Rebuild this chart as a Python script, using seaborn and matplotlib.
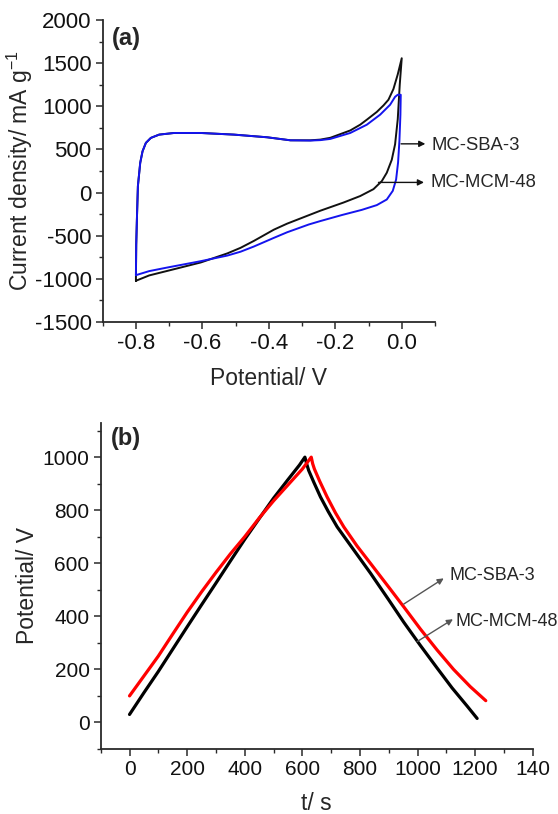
import matplotlib
matplotlib.use("Agg")
import matplotlib.pyplot as plt
import numpy as np
import pandas as pd
import seaborn as sns
from matplotlib.ticker import MultipleLocator, FixedLocator, FixedFormatter

# ---------------- data: (a) cyclic voltammetry (forward sweep, then reverse sweep) ----------------
cv_mcm48_potential = [-0.800, -0.799, -0.797, -0.794, -0.787, -0.780, -0.770, -0.755, -0.730,
                      -0.685, -0.605, -0.505, -0.405, -0.335, -0.275, -0.245, -0.215, -0.155,
                      -0.125, -0.105, -0.075, -0.055, -0.040, -0.025, -0.012, 0.000,
                      -0.006, -0.012, -0.020, -0.030, -0.045, -0.060, -0.085, -0.125, -0.175,
                      -0.245, -0.275, -0.345, -0.385, -0.445, -0.485, -0.525, -0.605, -0.705,
                      -0.760, -0.800]
cv_mcm48_current = [-1022, -600, -310, 75, 345, 479, 576, 634, 672,
                    691, 691, 672, 641, 606, 606, 614, 635, 720,
                    787, 845, 935, 1010, 1076, 1200, 1370, 1557,
                    1250, 850, 560, 380, 230, 133, 40, -40, -115,
                    -210, -255, -360, -430, -560, -640, -705, -810, -907,
                    -960, -1022]

cv_sba3_potential = [-0.800, -0.799, -0.797, -0.794, -0.787, -0.780, -0.770, -0.755, -0.730,
                     -0.685, -0.605, -0.505, -0.405, -0.335, -0.275, -0.245, -0.215, -0.155,
                     -0.105, -0.065, -0.035, -0.020, -0.012, -0.003,
                     -0.003, -0.004, -0.007, -0.011, -0.017, -0.027, -0.045, -0.075, -0.120,
                     -0.180, -0.245, -0.280, -0.345, -0.385, -0.445, -0.485, -0.525, -0.605,
                     -0.705, -0.760, -0.800]
cv_sba3_current = [-957, -600, -310, 75, 345, 479, 576, 634, 672,
                   691, 691, 672, 641, 606, 603, 608, 622, 691,
                   787, 903, 1018, 1110, 1134, 1134,
                   1120, 900, 600, 350, 150, 20, -80, -145, -200,
                   -260, -330, -370, -460, -525, -625, -685, -730, -795,
                   -868, -910, -957]

# ---------------- data: (b) galvanostatic charge/discharge ----------------
gcd_mcm48_time = [0, 50, 100, 150, 200, 250, 300, 350, 400, 450, 500, 550, 590, 609,
                  615, 622, 640, 663, 690, 721, 780, 837, 900, 952, 1010, 1068, 1120, 1172, 1207]
gcd_mcm48_potential = [30, 112, 192, 276, 360, 443, 525, 608, 690, 768, 845, 915, 970, 1000,
                       975, 950, 905, 850, 795, 737, 648, 562, 462, 378, 290, 205, 130, 62, 15]

gcd_sba3_time = [0, 50, 100, 150, 200, 250, 300, 350, 400, 450, 500, 550, 600, 631,
                 636, 642, 660, 686, 715, 744, 790, 837, 900, 952, 1010, 1068, 1125, 1183, 1237]
gcd_sba3_potential = [100, 175, 250, 333, 415, 492, 565, 635, 700, 770, 835, 895, 955, 1000,
                      975, 955, 910, 850, 790, 737, 665, 599, 510, 436, 352, 273, 200, 135, 82]

cv_xticks = [-0.8, -0.6, -0.4, -0.2, 0.0]
cv_xticklabels = ["-0.8", "-0.6", "-0.4", "-0.2", "0.0"]
cv_yticks = [-1500, -1000, -500, 0, 500, 1000, 1500, 2000]
gcd_xticks = [0, 200, 400, 600, 800, 1000, 1200, 1400]
gcd_xticklabels = ["0", "200", "400", "600", "800", "1000", "1200", "140"]
gcd_yticks = [0, 200, 400, 600, 800, 1000]

# ---------------- style ----------------
sns.set_theme(style="ticks")
plt.rcParams['font.family'] = ['Liberation Sans', 'DejaVu Sans']
plt.rcParams['mathtext.fontset'] = 'custom'
plt.rcParams['mathtext.rm'] = 'Liberation Sans'
plt.rcParams['axes.unicode_minus'] = False

SPINE = "#2a2a2a"

fig = plt.figure(figsize=(5.58, 8.14), dpi=100)
ax1 = fig.add_axes([0.184, 0.6044, 0.5955, 0.371])
ax2 = fig.add_axes([0.1805, 0.0799, 0.7742, 0.4009])

cv = pd.concat([
    pd.DataFrame({"E": cv_mcm48_potential, "I": cv_mcm48_current, "s": "MC-MCM-48"}),
    pd.DataFrame({"E": cv_sba3_potential, "I": cv_sba3_current, "s": "MC-SBA-3"}),
])
sns.lineplot(data=cv, x="E", y="I", hue="s", sort=False, estimator=None, ax=ax1,
             palette={"MC-MCM-48": "#111111", "MC-SBA-3": "#1414ee"}, lw=1.4, legend=False)
for ln in ax1.get_lines():
    ln.set_solid_joinstyle("round")

gcd = pd.concat([
    pd.DataFrame({"t": gcd_mcm48_time, "V": gcd_mcm48_potential, "s": "MC-MCM-48"}),
    pd.DataFrame({"t": gcd_sba3_time, "V": gcd_sba3_potential, "s": "MC-SBA-3"}),
])
sns.lineplot(data=gcd, x="t", y="V", hue="s", sort=False, estimator=None, ax=ax2,
             palette={"MC-MCM-48": "#000000", "MC-SBA-3": "#ff0000"}, lw=2.3, legend=False)
for ln in ax2.get_lines():
    ln.set_solid_capstyle("round")
    ln.set_solid_joinstyle("round")

for ax, fs in ((ax1, 16), (ax2, 15)):
    for sp in ("top", "right"):
        ax.spines[sp].set_visible(False)
    for sp in ("left", "bottom"):
        ax.spines[sp].set_color(SPINE)
        ax.spines[sp].set_linewidth(1.3)
    ax.tick_params(which="major", direction="out", length=5, width=1.1, color=SPINE,
                   labelsize=fs, labelcolor="#111111", pad=3)
    ax.tick_params(which="minor", direction="out", length=3, width=1.0, color=SPINE)
    ax.grid(False)

# (a)
ax1.set_xlim(-0.9, 0.1)
ax1.set_ylim(-1500, 2000)
ax1.xaxis.set_major_locator(FixedLocator(cv_xticks))
ax1.xaxis.set_major_formatter(FixedFormatter(cv_xticklabels))
ax1.xaxis.set_minor_locator(MultipleLocator(0.1))
ax1.yaxis.set_major_locator(FixedLocator(cv_yticks))
ax1.yaxis.set_minor_locator(MultipleLocator(250))
ax1.set_xlabel("Potential/ V", fontsize=16.5, labelpad=9)
ax1.set_ylabel("Current density/ mA g$^{\\mathregular{-1}}$", fontsize=16.5, labelpad=0)
ax1.text(0.027, 0.94, "(a)", transform=ax1.transAxes, fontsize=17, fontweight="bold",
         ha="left", va="center")

arrow_k = dict(arrowstyle="-|>", color="#111111", lw=1.0, shrinkA=0, shrinkB=0,
               mutation_scale=9)
ax1.annotate("", xy=(0.071, 565), xytext=(-0.002, 565), arrowprops=arrow_k)
ax1.annotate("", xy=(0.067, 118), xytext=(-0.07, 118), arrowprops=arrow_k)
ax1.text(0.089, 548, "MC-SBA-3", fontsize=13.3, ha="left", va="center", clip_on=False)
ax1.text(0.087, 112, "MC-MCM-48", fontsize=13.3, ha="left", va="center", clip_on=False)

# (b)
ax2.set_xlim(-100, 1400)
ax2.set_ylim(-100, 1130)
ax2.xaxis.set_major_locator(FixedLocator(gcd_xticks))
ax2.xaxis.set_major_formatter(FixedFormatter(gcd_xticklabels))
ax2.xaxis.set_minor_locator(MultipleLocator(100))
ax2.yaxis.set_major_locator(FixedLocator(gcd_yticks))
ax2.yaxis.set_minor_locator(MultipleLocator(100))
ax2.set_xlabel("t/ s", fontsize=16.5, labelpad=9)
ax2.set_ylabel("Potential/ V", fontsize=16.5, labelpad=3)
ax2.text(0.024, 0.95, "(b)", transform=ax2.transAxes, fontsize=17, fontweight="bold",
         ha="left", va="center")

arrow_g = dict(arrowstyle="-|>", color="#555555", lw=1.0, shrinkA=0, shrinkB=0,
               mutation_scale=9)
ax2.annotate("", xy=(1091, 543), xytext=(952, 446), arrowprops=arrow_g)
ax2.annotate("", xy=(1123, 389), xytext=(999, 305), arrowprops=arrow_g)
ax2.text(1111, 555, "MC-SBA-3", fontsize=13, ha="left", va="center", clip_on=False)
ax2.text(1131, 380, "MC-MCM-48", fontsize=13, ha="left", va="center", clip_on=False)

fig.savefig("out.png", dpi=100)
